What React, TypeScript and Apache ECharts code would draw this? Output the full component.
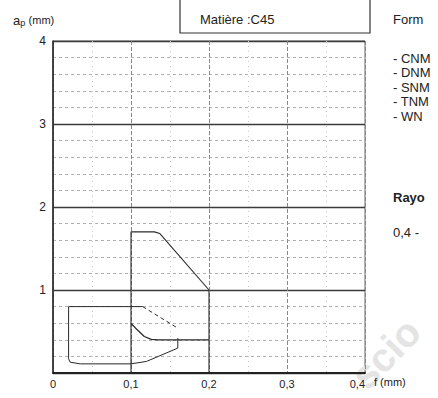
import React, { useEffect, useRef } from "react";
import * as echarts from "echarts";

// ---- data ----
const xTicks = [0, 0.1, 0.2, 0.3, 0.4];
const yTicks = [0, 1, 2, 3, 4];
const title = "Matière :C45";
const yName = "(mm)";
const xName = "f (mm)";
// r = 0,8 working zone
const r08Outline: number[][] = [
  [0.1, 0], [0.1, 1.7], [0.13, 1.7], [0.137, 1.68], [0.2, 1.0], [0.2, 0],
];
const r08Inner: number[][] = [
  [0.1, 0.6], [0.108, 0.52], [0.117, 0.44], [0.126, 0.405], [0.135, 0.4], [0.2, 0.4],
];
// r = 0,4 working zone
const r04Outline: number[][] = [
  [0.16, 0.42], [0.16, 0.3], [0.12, 0.14], [0.1, 0.11], [0.035, 0.11],
  [0.022, 0.13], [0.02, 0.17], [0.02, 0.8], [0.115, 0.8],
];
const r04Chamfer: number[][] = [[0.115, 0.8], [0.16, 0.54]];
const radiusLabels = [
  { name: "r=0,8", value: [0.206, 0.88] },
  { name: "r=0.4", value: [0.146, 0.13] },
];
// side notes (the scan is cropped at its right edge; only these parts show)
const formeTitle = "Form";
const plaquettes = ["- CNM", "- DNM", "- SNM", "- TNM", "- WN"];
const rayonTitle = "Rayo";
const rayonValues = "0,4 -";
const watermark = "scio";

const FONT = "Liberation Sans, Arial, sans-serif";
const INK = "#2a2a2a";

export default function App() {
  const ref = useRef<HTMLDivElement>(null);
  useEffect(() => {
    if (!ref.current) return;
    const chart = echarts.init(ref.current, undefined, { renderer: "svg" });
    const lineSeries = (data: number[][], type: any, width = 1.1, color = INK) => ({
      type: "line",
      data,
      symbol: "none",
      silent: true,
      z: 5,
      lineStyle: { color, width, type },
    });
    const sideText = (text: string, y: number, bold = false) => ({
      type: "text", x: 393, y, z: 11,
      style: {
        text, fontSize: 13, fontWeight: bold ? "bold" : "normal",
        fontFamily: FONT, fill: "#222", verticalAlign: "middle",
      },
    });
    chart.setOption({
      animation: false,
      backgroundColor: "#ffffff",
      textStyle: { fontFamily: FONT },
      grid: {
        left: 53, right: 73, top: 41, bottom: 25,
        show: true, borderColor: "#666", borderWidth: 1,
      },
      xAxis: {
        type: "value",
        min: xTicks[0],
        max: xTicks[xTicks.length - 1],
        interval: 0.1,
        axisLine: { show: true, lineStyle: { color: "#222", width: 2 } },
        axisTick: { show: false },
        axisLabel: {
          color: "#222", fontSize: 11, fontFamily: FONT, margin: 5,
          alignMaxLabel: "right",
          formatter: (v: number) => (v === 0 ? "0" : String(Math.round(v * 10) / 10).replace(".", ",")),
        },
        splitLine: { show: true, lineStyle: { color: "#888", width: 1, type: [4, 2] } },
        minorTick: { show: false, splitNumber: 2 },
        minorSplitLine: { show: true, lineStyle: { color: "#c8c8c8", width: 1, type: [1, 4] } },
      },
      yAxis: {
        type: "value",
        min: yTicks[0],
        max: yTicks[yTicks.length - 1],
        interval: 1,
        axisLine: { show: true, lineStyle: { color: "#222", width: 1.5 } },
        axisTick: { show: false },
        axisLabel: {
          color: "#222", fontSize: 12, fontFamily: FONT, margin: 7,
          formatter: (v: number) => (v === 0 ? "" : String(v)),
        },
        splitLine: { show: true, lineStyle: { color: "#3a3a3a", width: 1.3 } },
        minorTick: { show: false, splitNumber: 5 },
        minorSplitLine: { show: true, lineStyle: { color: "#b0b0b0", width: 1, type: [3, 3] } },
      },
      series: [
        lineSeries(r08Outline, "solid", 1.1),
        lineSeries(r08Inner, "solid", 1.3),
        lineSeries(r04Outline, "solid", 1),
        lineSeries(r04Chamfer, [4, 3], 1),
        {
          type: "scatter",
          data: radiusLabels,
          symbolSize: 0.1,
          itemStyle: { opacity: 0 },
          silent: true,
          z: 6,
          label: {
            show: true, position: "right", distance: 0, formatter: "{b}",
            color: "#222", fontSize: 12, fontFamily: FONT,
          },
        },
      ],
      graphic: [
        {
          type: "text", x: 372, y: 396, rotation: 0.8, z: 0, silent: true,
          style: {
            text: watermark, fontSize: 40, fontWeight: "bold", fontFamily: FONT,
            fill: "#e4e4e4", verticalAlign: "bottom",
          },
        },
        {
          type: "rect", shape: { x: 180, y: -4, width: 190, height: 37 }, z: 10,
          style: { fill: "#fff", stroke: "#333", lineWidth: 1.2 },
        },
        {
          type: "text", x: 200, y: 19, z: 11,
          style: { text: title, fontSize: 13, fontFamily: FONT, fill: "#222", verticalAlign: "middle" },
        },
        {
          type: "text", x: 13, y: 20, z: 11,
          style: {
            text: "{a|a}{p|p} {m|" + yName + "}",
            verticalAlign: "middle",
            rich: {
              a: { fontSize: 13, fontFamily: FONT, fill: "#222" },
              p: { fontSize: 9, fontFamily: FONT, fill: "#222", verticalAlign: "bottom", padding: [5, 0, 0, 0] },
              m: { fontSize: 11, fontFamily: FONT, fill: "#222" },
            },
          },
        },
        {
          type: "text", x: 374, y: 382, z: 11,
          style: { text: xName, fontSize: 11, fontFamily: FONT, fill: "#222", verticalAlign: "middle" },
        },
        sideText(formeTitle, 19),
        ...plaquettes.map((t, i) => sideText(t, 58 + i * 14.5)),
        sideText(rayonTitle, 197, true),
        sideText(rayonValues, 232),
      ],
    });
    return () => chart.dispose();
  }, []);
  return (
    <div
      ref={ref}
      style={{ position: "absolute", left: 0, top: 0, width: 438, height: 398 }}
    />
  );
}
